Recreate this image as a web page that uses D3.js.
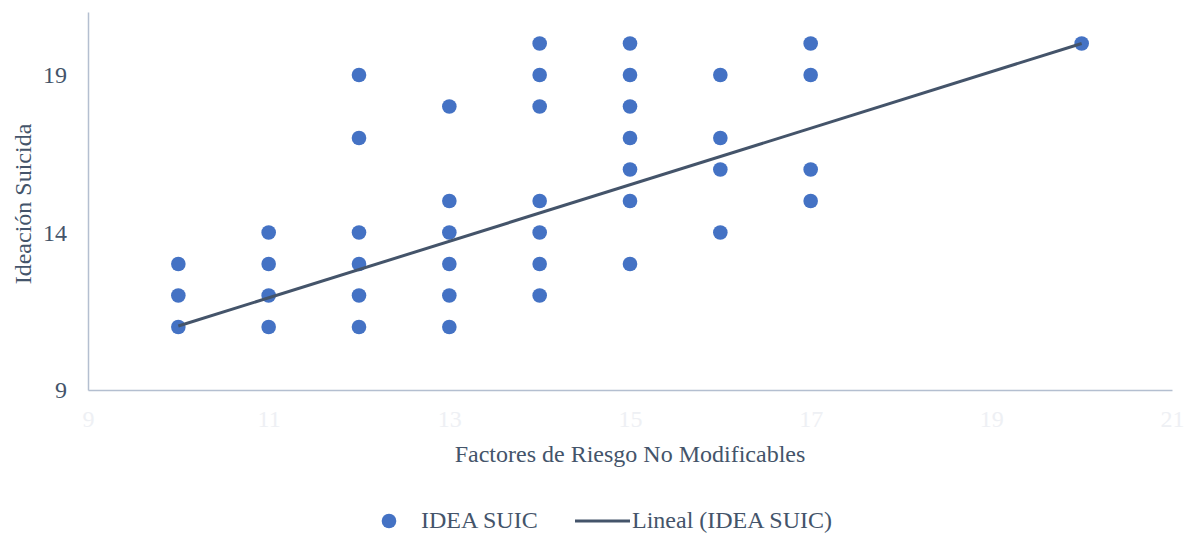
<!DOCTYPE html>
<html><head><meta charset="utf-8">
<script src="https://cdn.jsdelivr.net/npm/d3@7"></script>
<style>
html,body{margin:0;padding:0;background:#fff;}
#chart, #chart text{font-family:'Liberation Serif';}
</style></head>
<body>
<svg id="chart" width="1187" height="533" font-family="Liberation Serif"></svg>
<script>
const seriesName = "IDEA SUIC";
const trendName = "Lineal (IDEA SUIC)";
const xTitle = "Factores de Riesgo No Modificables";
const yTitle = "Ideación Suicida";
const xTicks = [9, 11, 13, 15, 17, 19, 21];
const yTicks = [9, 14, 19];
const xValues = [10,10,10, 11,11,11,11, 12,12,12,12,12,12, 13,13,13,13,13,13, 14,14,14,14,14,14,14, 15,15,15,15,15,15,15, 16,16,16,16, 17,17,17,17, 20];
const yValues = [11,12,13, 11,12,13,14, 11,12,13,14,17,19, 11,12,13,14,15,18, 12,13,14,15,18,19,20, 13,15,16,17,18,19,20, 14,16,17,19, 15,16,19,20, 20];
const trendX = [10, 20];
const trendY = [11.03, 20.0];

const FONT = "Liberation Serif";
const FS = 24;
const svg = d3.select("#chart");
const x = d3.scaleLinear().domain([9, 21]).range([88, 1172]);
const y = d3.scaleLinear().domain([9, 21]).range([390, 12]);

const axisColor = "#b4bfd0";
const gx = svg.append("g").attr("transform", "translate(0,390)")
  .call(d3.axisBottom(x).tickValues(xTicks).tickSize(0).tickPadding(20));
gx.attr("font-family", FONT);
gx.select(".domain").attr("stroke", axisColor).attr("stroke-width", 1.5);
gx.selectAll("text").style("font-family", FONT).attr("fill", "#eef0f4").attr("font-size", FS);

const gy = svg.append("g").attr("transform", "translate(88,0)")
  .call(d3.axisLeft(y).tickValues(yTicks).tickSize(0).tickPadding(21));
gy.attr("font-family", FONT);
gy.select(".domain").attr("stroke", axisColor).attr("stroke-width", 1.5);
gy.selectAll("text").style("font-family", FONT).attr("fill", "#44546a").attr("font-size", FS);

const pts = xValues.map((v, i) => ({x: v, y: yValues[i]}));
svg.append("g").selectAll("circle").data(pts).join("circle")
  .attr("cx", d => x(d.x)).attr("cy", d => y(d.y)).attr("r", 7.3)
  .attr("fill", "#4472c4");

const tl = trendX.map((v, i) => [v, trendY[i]]);
svg.append("path").datum(tl)
  .attr("d", d3.line().x(d => x(d[0])).y(d => y(d[1])))
  .attr("stroke", "#44546a").attr("stroke-width", 3).attr("fill", "none");

svg.append("text").attr("x", 630).attr("y", 462).attr("text-anchor", "middle")
  .style("font-family", FONT).attr("font-size", FS).attr("fill", "#44546a").text(xTitle);
svg.append("text").attr("transform", "translate(31,204) rotate(-90)").attr("text-anchor", "middle")
  .style("font-family", FONT).attr("font-size", FS).attr("fill", "#44546a").text(yTitle);

const lg = svg.append("g");
lg.append("circle").attr("cx", 389).attr("cy", 521).attr("r", 7.3).attr("fill", "#4472c4");
lg.append("text").attr("x", 421).attr("y", 528).style("font-family", FONT).attr("font-size", FS).attr("fill", "#44546a").text(seriesName);
lg.append("line").attr("x1", 575).attr("x2", 630).attr("y1", 521).attr("y2", 521)
  .attr("stroke", "#44546a").attr("stroke-width", 3);
lg.append("text").attr("x", 632).attr("y", 528).style("font-family", FONT).attr("font-size", FS).attr("fill", "#44546a").text(trendName);
</script>
</body></html>
